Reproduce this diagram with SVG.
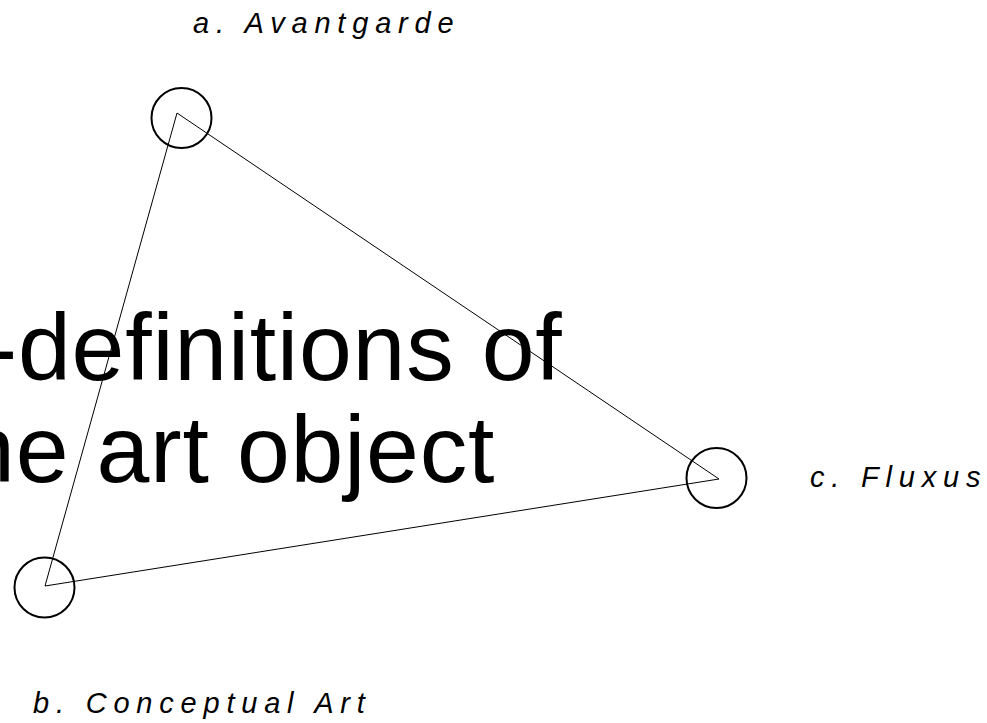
<svg xmlns="http://www.w3.org/2000/svg" width="987" height="723" viewBox="0 0 987 723">
<style>
.title{font-family:"Liberation Sans",Arial,sans-serif;font-size:95px;letter-spacing:0.8px;fill:#000}
.lbl{font-family:"Liberation Sans",Arial,sans-serif;font-style:italic;font-size:29px;letter-spacing:6.8px;fill:#000}
.node{fill:none;stroke:#000;stroke-width:2}
.edge{fill:none;stroke:#000;stroke-width:1}
</style>
<rect width="987" height="723" fill="#fff"/>
<g id="title">
<text class="title" x="-14.5" y="380">-definitions of</text>
<text class="title" x="-38" y="482">he art object</text>
</g>
<g id="connectors">
<line class="edge" x1="177" y1="113" x2="719" y2="479"/>
<line class="edge" x1="719" y1="479" x2="45" y2="586"/>
<line class="edge" x1="45" y1="586" x2="177" y2="113"/>
</g>
<g id="node-a">
<circle class="node" cx="181.5" cy="118" r="30"/>
<text class="lbl" x="193" y="33">a. Avantgarde</text>
</g>
<g id="node-b">
<circle class="node" cx="44.5" cy="587.5" r="30"/>
<text class="lbl" x="33" y="713">b. Conceptual Art</text>
</g>
<g id="node-c">
<circle class="node" cx="716.5" cy="478" r="30"/>
<text class="lbl" x="810" y="487">c. Fluxus</text>
</g>
</svg>
